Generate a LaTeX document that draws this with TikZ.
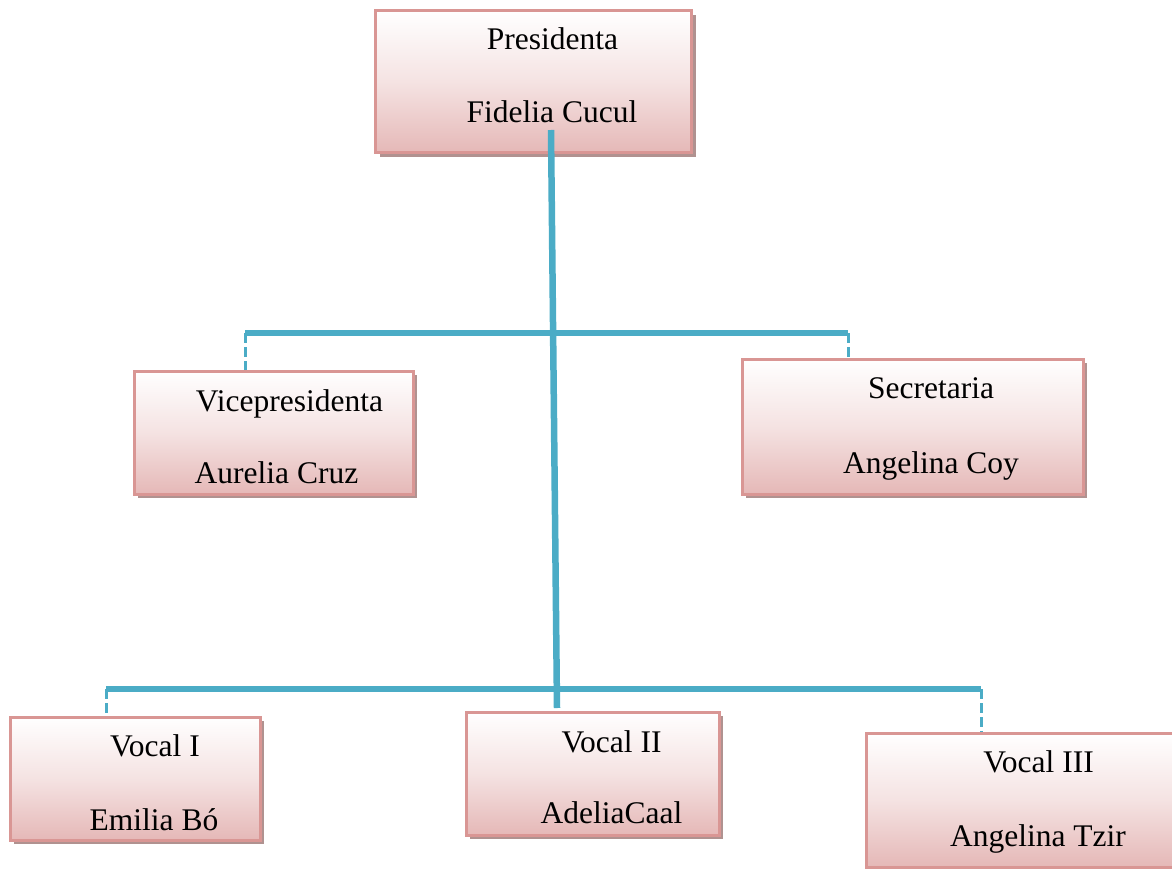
\documentclass[tikz,border=0pt]{standalone}
\usepackage{fontspec}
\setmainfont{Liberation Serif}
\usetikzlibrary{shadows}
\definecolor{boxline}{RGB}{217,150,148}
\definecolor{boxbot}{RGB}{229,184,183}
\definecolor{shadowc}{RGB}{176,146,144}
\definecolor{tealc}{RGB}{75,172,198}
\tikzset{
  orgbox/.style={rectangle, draw=boxline, line width=3pt, inner sep=0pt,
    top color=white, bottom color=boxbot, middle color=boxbot!40!white,
    drop shadow={shadow xshift=4pt, shadow yshift=-4pt, fill=shadowc, opacity=1}},
  lbl/.style={font=\fontsize{31.5}{36}\selectfont, anchor=base, inner sep=0pt},
  mainline/.style={draw=tealc, line width=6.5pt},
  dropline/.style={draw=tealc, line width=3pt, dash pattern=on 10pt off 4pt},
}
\begin{document}
\begin{tikzpicture}[x=1pt,y=-1pt]
\useasboundingbox (0,0) rectangle (1172,869);
% boxes
\node[orgbox, minimum width=316pt, minimum height=142pt] (pres) at (533.5,82) {};
\node[orgbox, minimum width=279pt, minimum height=123pt] (vice) at (273.5,432.5) {};
\node[orgbox, minimum width=341pt, minimum height=135pt] (sec) at (912.5,426.5) {};
\node[orgbox, minimum width=250pt, minimum height=123pt] (v1) at (135,778.5) {};
\node[orgbox, minimum width=253pt, minimum height=123pt] (v2) at (592.5,773.5) {};
\node[orgbox, minimum width=308pt, minimum height=134pt] (v3) at (1020,800) {};
% texts
\node[lbl] (t1a) at (552.5,50) {Presidenta};
\node[lbl] (t1b) at (552,123) {Fidelia Cucul};
\node[lbl] (t2a) at (289.5,411) {Vicepresidenta};
\node[lbl] (t2b) at (276.5,483) {Aurelia Cruz};
\node[lbl] (t3a) at (931,398) {Secretaria};
\node[lbl] (t3b) at (931,473) {Angelina Coy};
\node[lbl] (t4a) at (155,756) {Vocal I};
\node[lbl] (t4b) at (154,830) {Emilia Bó};
\node[lbl] (t5a) at (611.5,752) {Vocal II};
\node[lbl] (t5b) at (611.5,823) {AdeliaCaal};
\node[lbl] (t6a) at (1038.5,772) {Vocal III};
\node[lbl] (t6b) at (1038,846) {Angelina Tzir};
% connectors
\coordinate (ptop) at (551,130);
\coordinate (pbot) at (557,708);
\coordinate (h1l) at (245,333);
\coordinate (h1r) at (848,333);
\coordinate (h2l) at (106,689);
\coordinate (h2r) at (981,689);
\draw[mainline] (h1l) -- (h1r);
\draw[mainline] (h2l) -- (h2r);
\draw[dropline] (h1l) -- (h1l |- vice.north);
\draw[dropline] (h1r) -- (h1r |- sec.north);
\draw[dropline] (h2l) -- (h2l |- v1.north);
\draw[dropline] (h2r) -- (h2r |- v3.north);
\draw[mainline] (ptop) -- (pbot);
\end{tikzpicture}
\end{document}
